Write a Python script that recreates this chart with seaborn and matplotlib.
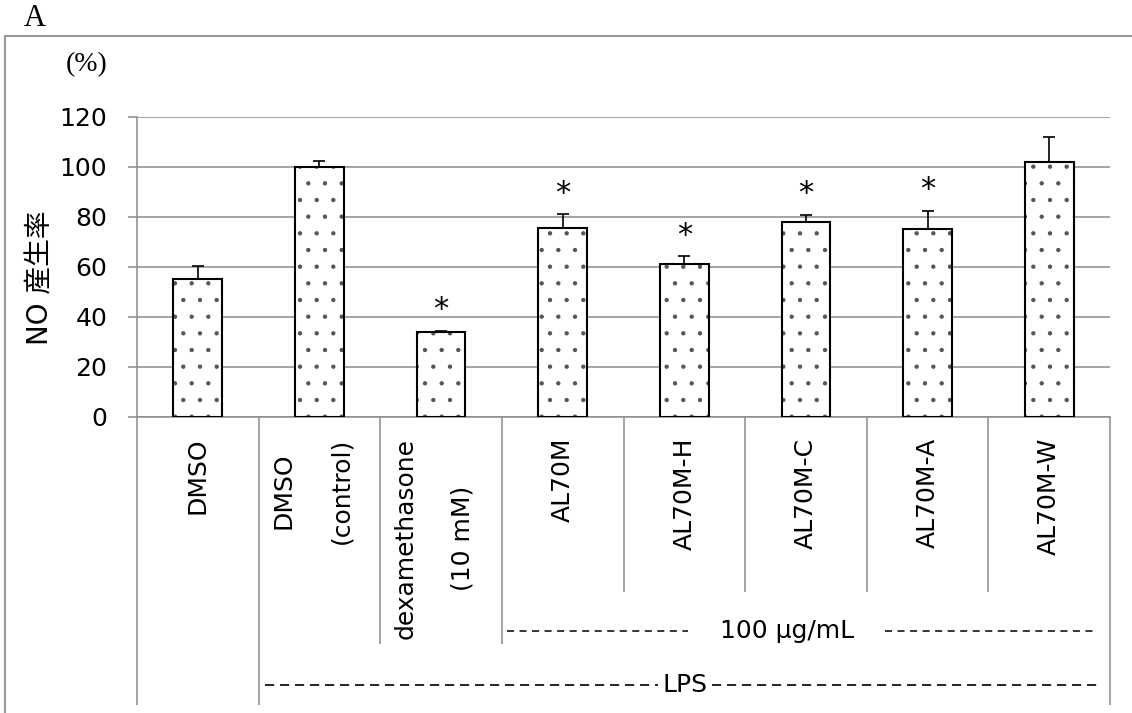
import numpy as np
import pandas as pd
import matplotlib
matplotlib.use('Agg')
import matplotlib.pyplot as plt
import matplotlib.transforms as mtransforms
from matplotlib.lines import Line2D
import seaborn as sns

# ---- data ----
categories = ["DMSO", "DMSO\n(control)", "dexamethasone\n(10 mM)", "AL70M",
              "AL70M-H", "AL70M-C", "AL70M-A", "AL70M-W"]
values = [55.2, 100.0, 34.0, 75.7, 61.1, 78.1, 75.2, 102.0]
errors = [5.2, 2.4, 0.5, 5.5, 3.3, 2.7, 7.3, 9.9]
significant = [False, False, True, True, True, True, True, False]
yticks = [0, 20, 40, 60, 80, 100, 120]
ylabel = "NO 産生率"
unit_label = "(%)"
panel_label = "A"
conc_label = "100 µg/mL"
lps_label = "LPS"

sns.set_style('white')
plt.rcParams['font.family'] = ['DejaVu Sans', 'Noto Sans CJK JP']
plt.rcParams['hatch.linewidth'] = 0.7
plt.rcParams['text.color'] = 'black'
plt.rcParams['xtick.color'] = 'black'
plt.rcParams['ytick.color'] = 'black'

W, H = 1132, 713
fig = plt.figure(figsize=(W / 100, H / 100), dpi=100)
ax = fig.add_axes([137 / W, 1 - 417 / H, (1110 - 137) / W, 300 / H])

GRAY = '#8c8c8c'
df = pd.DataFrame({'cat': categories, 'val': values})
# dotted fill (gray dots)
sns.barplot(data=df, x='cat', y='val', order=categories, color='white',
            saturation=1, edgecolor='#555555', linewidth=0, hatch='.',
            width=0.4, errorbar=None, ax=ax, zorder=3)
# black outline
sns.barplot(data=df, x='cat', y='val', order=categories, fill=False,
            color='black', edgecolor='black', linewidth=1.5,
            width=0.4, errorbar=None, ax=ax, zorder=3.5)

x = np.arange(len(categories))
ax.errorbar(x, values, yerr=[np.zeros(len(values)), errors], fmt='none',
            ecolor='black', elinewidth=1.2, capsize=4, capthick=1.2, zorder=4)

for xi, v, e, s in zip(x, values, errors, significant):
    if s:
        ax.text(xi, v + e + 5.0, '*', ha='center', va='baseline', fontsize=22)

ax.set_ylim(0, 120)
ax.set_xlim(-0.5, len(categories) - 0.5)
ax.set_yticks(yticks)
ax.set_axisbelow(True)
ax.yaxis.grid(True, color=GRAY, linewidth=1.1, zorder=0)
ax.xaxis.grid(False)
ax.tick_params(axis='y', left=True, length=6.5, width=1.1, color=GRAY,
               labelcolor='black', pad=15, labelsize=18)
ax.tick_params(axis='x', bottom=False, length=0, pad=15, labelsize=18,
               labelcolor='black')
for s in ['top', 'right']:
    ax.spines[s].set_visible(False)
for s in ['left', 'bottom']:
    ax.spines[s].set_color(GRAY)
    ax.spines[s].set_linewidth(1.1)
ax.set_xlabel('')
ax.set_ylabel('')
ax.set_xticks(x)
ax.set_xticklabels(categories, rotation=90, va='top', ha='center',
                   multialignment='center', linespacing=2.75)
# two-line labels sit slightly left of the category centre in the original
for lab in ax.get_xticklabels():
    if '\n' in lab.get_text():
        lab.set_transform(lab.get_transform() +
                          mtransforms.ScaledTranslation(-7 / 100, 0,
                                                        fig.dpi_scale_trans))

# ---- category separators below the axis ----
trans = mtransforms.blended_transform_factory(ax.transData, ax.transAxes)


def yf(py):
    return (417 - py) / 300


seps = [(-0.5, 705), (0.5, 705), (1.5, 644), (2.5, 644), (3.5, 592),
        (4.5, 592), (5.5, 592), (6.5, 592), (7.5, 705)]
for xs, yb in seps:
    ax.plot([xs, xs], [0, yf(yb)], transform=trans, color=GRAY, lw=1.1,
            clip_on=False, solid_capstyle='butt')

# concentration bracket
ax.plot([2.54, 4.03], [yf(631)] * 2, transform=trans, color='black', lw=1.1,
        ls=(0, (4.6, 3.6)), clip_on=False)
ax.plot([5.65, 7.39], [yf(631)] * 2, transform=trans, color='black', lw=1.1,
        ls=(0, (4.6, 3.6)), clip_on=False)
ax.text(4.845, yf(631), conc_label, transform=trans, ha='center', va='center',
        fontsize=18)

# LPS bracket
ax.plot([0.553, 3.78], [yf(685)] * 2, transform=trans, color='black', lw=1.2,
        ls=(0, (5.5, 3.5)), clip_on=False)
ax.plot([4.23, 7.41], [yf(685)] * 2, transform=trans, color='black', lw=1.2,
        ls=(0, (5.5, 3.5)), clip_on=False)
ax.text(4.007, yf(685), lps_label, transform=trans, ha='center', va='center',
        fontsize=18)

# ---- outer frame ----
fig.add_artist(Line2D([5 / W, 1], [1 - 36 / H, 1 - 36 / H],
                      transform=fig.transFigure, color='#999999', lw=1.5))
fig.add_artist(Line2D([5 / W, 5 / W], [1 - 36 / H, 0],
                      transform=fig.transFigure, color='#999999', lw=1.5))

# ---- texts ----
fig.text(35 / W, 1 - 19 / H, panel_label, family='Liberation Serif',
         fontsize=22, ha='center', va='center')
fig.text(87 / W, 1 - 65 / H, unit_label, family='Liberation Serif',
         fontsize=20, ha='center', va='center')
fig.text(40 / W, 1 - 278 / H, ylabel, rotation=90, fontsize=20,
         ha='center', va='center')

fig.savefig('out.png', dpi=100)
